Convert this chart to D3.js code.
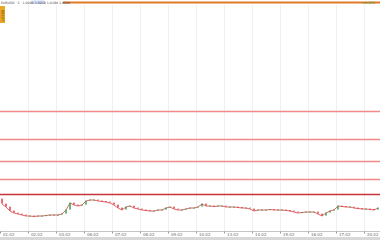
<!DOCTYPE html>
<html lang="en">
<head>
  <meta charset="UTF-8" />
  <title>Candles with levels</title>
  <script src="https://d3js.org/d3.v7.min.js"></script>
  <style>
    html, body { margin: 0; padding: 0; background: #ffffff; overflow: hidden; }
    svg { display: block; font-family: 'DejaVu Sans', sans-serif; }
    .tick-label { font-size: 4px; fill: #6a6a6a; }
  </style>
</head>
<body>
<svg width="380" height="240"></svg>
<script>
const width = 380;
const height = 240;

// price levels (horizontal lines), top to bottom
const levels = [1.1170, 1.0890, 1.0670, 1.0490, 1.0340];
const levelColors = ["#f08a8a", "#f08a8a", "#f08a8a", "#f08a8a", "#c8343a"];

const opens = [
  1.0290, 1.0240, 1.0210, 1.0170, 1.0150, 1.0140, 1.0130, 1.0120, 1.0120, 1.0115,
  1.0120, 1.0120, 1.0125, 1.0130, 1.0130, 1.0130, 1.0140, 1.0180, 1.0250, 1.0230,
  1.0220, 1.0230, 1.0270, 1.0280, 1.0280, 1.0270, 1.0265, 1.0260, 1.0250, 1.0230,
  1.0200, 1.0180, 1.0210, 1.0220, 1.0200, 1.0190, 1.0180, 1.0175, 1.0170, 1.0170,
  1.0180, 1.0180, 1.0200, 1.0210, 1.0190, 1.0180, 1.0180, 1.0190, 1.0200, 1.0200,
  1.0210, 1.0240, 1.0220, 1.0220, 1.0215, 1.0220, 1.0220, 1.0210, 1.0210, 1.0210,
  1.0205, 1.0200, 1.0200, 1.0190, 1.0170, 1.0180, 1.0180, 1.0180, 1.0185, 1.0180,
  1.0180, 1.0180, 1.0175, 1.0170, 1.0160, 1.0150, 1.0155, 1.0160, 1.0160, 1.0160,
  1.0140, 1.0120, 1.0150, 1.0170, 1.0180, 1.0220, 1.0215, 1.0210, 1.0210, 1.0200,
  1.0195, 1.0190, 1.0190, 1.0185, 1.0180
];
const closes = [
  1.0240, 1.0210, 1.0170, 1.0150, 1.0140, 1.0130, 1.0120, 1.0120, 1.0115, 1.0120,
  1.0120, 1.0125, 1.0130, 1.0130, 1.0130, 1.0140, 1.0180, 1.0250, 1.0230, 1.0220,
  1.0230, 1.0270, 1.0280, 1.0280, 1.0270, 1.0265, 1.0260, 1.0250, 1.0230, 1.0200,
  1.0180, 1.0210, 1.0220, 1.0200, 1.0190, 1.0180, 1.0175, 1.0170, 1.0170, 1.0180,
  1.0180, 1.0200, 1.0210, 1.0190, 1.0180, 1.0180, 1.0190, 1.0200, 1.0200, 1.0210,
  1.0240, 1.0220, 1.0220, 1.0215, 1.0220, 1.0220, 1.0210, 1.0210, 1.0210, 1.0205,
  1.0200, 1.0200, 1.0190, 1.0170, 1.0180, 1.0180, 1.0180, 1.0185, 1.0180, 1.0180,
  1.0180, 1.0175, 1.0170, 1.0160, 1.0150, 1.0155, 1.0160, 1.0160, 1.0160, 1.0140,
  1.0120, 1.0150, 1.0170, 1.0180, 1.0220, 1.0215, 1.0210, 1.0210, 1.0200, 1.0195,
  1.0190, 1.0190, 1.0185, 1.0180, 1.0200
];

// x axis ticks (candle index) and labels
const tickIndex = [0, 7, 14, 21, 28, 35, 42, 49, 56, 63, 70, 77, 84, 91];
const tickLabels = ["01.02", "02.02", "03.02", "06.02", "07.02", "08.02", "09.02",
  "10.02", "13.02", "14.02", "15.02", "16.02", "17.02", "20.02"];

const svg = d3.select("svg");

const x = d3.scaleLinear().domain([0, closes.length]).range([0, width]);
const y = d3.scaleLinear().domain([1.000, 1.224]).range([228, 4]);

svg.append("rect").attr("width", width).attr("height", height).attr("fill", "#fff");

// vertical grid
svg.append("g")
  .selectAll("line")
  .data(tickIndex.slice(1))
  .enter()
  .append("line")
  .attr("x1", d => x(d) + 0.5).attr("x2", d => x(d) + 0.5)
  .attr("y1", 5).attr("y2", 231)
  .attr("stroke", "#eef0f3")
  .attr("stroke-width", 1);

// header strip
svg.append("line")
  .attr("x1", 63).attr("x2", width)
  .attr("y1", 2.5).attr("y2", 2.5)
  .attr("stroke", "#e07b24")
  .attr("stroke-width", 2);
svg.append("rect")
  .attr("x", 31).attr("y", 0.5).attr("width", 14).attr("height", 3.5)
  .attr("fill", "#d3dcf4");
svg.append("text")
  .attr("x", 1).attr("y", 3.6)
  .attr("font-size", 3.2)
  .attr("fill", "#444")
  .text("EURUSD · 5 · 1.0200 1.0210 1.0180 1.0200");
svg.append("text")
  .attr("x", 362).attr("y", 3.6)
  .attr("font-size", 3.2)
  .attr("fill", "#2e9e44")
  .text("+0.12%");

// left tag
svg.append("rect")
  .attr("x", 0).attr("y", 6).attr("width", 5).attr("height", 17)
  .attr("fill", "#e9a825");
svg.append("text")
  .attr("transform", "translate(3.6,22) rotate(-90)")
  .attr("font-size", 3.5)
  .attr("fill", "#5a3b00")
  .text("1.0200");

// level lines
svg.append("g")
  .selectAll("line")
  .data(levels)
  .enter()
  .append("line")
  .attr("x1", 0).attr("x2", width)
  .attr("y1", d => Math.round(y(d)) + 0.5)
  .attr("y2", d => Math.round(y(d)) + 0.5)
  .attr("stroke", (d, i) => levelColors[i])
  .attr("stroke-width", 1.5);

// thin line through closes, under the candle bodies
const candles = d3.range(closes.length);
svg.append("path")
  .datum(candles)
  .attr("fill", "none")
  .attr("stroke", "#d9363e")
  .attr("stroke-opacity", 0.85)
  .attr("stroke-width", 0.9)
  .attr("d", d3.line().x(i => x(i + 0.5)).y(i => y(closes[i])));

// candle bodies
svg.append("g")
  .selectAll("rect")
  .data(candles)
  .enter()
  .append("rect")
  .attr("x", i => x(i + 0.5) - 0.7)
  .attr("width", 1.4)
  .attr("y", i => y(Math.max(opens[i], closes[i])) - 0.4)
  .attr("height", i => Math.max(1, Math.abs(y(opens[i]) - y(closes[i]))))
  .attr("fill", i => closes[i] >= opens[i] ? "#2e9e44" : "#d9363e");

// x axis
svg.append("line")
  .attr("x1", 0).attr("x2", width)
  .attr("y1", 231.5).attr("y2", 231.5)
  .attr("stroke", "#c4c4c4");
const axis = svg.append("g");
axis.selectAll("line")
  .data(tickIndex)
  .enter()
  .append("line")
  .attr("x1", d => x(d) + 0.5).attr("x2", d => x(d) + 0.5)
  .attr("y1", 231.5).attr("y2", 233.5)
  .attr("stroke", "#999");
axis.selectAll("text")
  .data(tickIndex)
  .enter()
  .append("text")
  .attr("class", "tick-label")
  .attr("x", d => x(d) + 3)
  .attr("y", 236)
  .text((d, i) => tickLabels[i]);

// bottom strip
svg.append("rect")
  .attr("x", 0).attr("y", 237).attr("width", width).attr("height", 3)
  .attr("fill", "#d8d8d8");
</script>
</body>
</html>
